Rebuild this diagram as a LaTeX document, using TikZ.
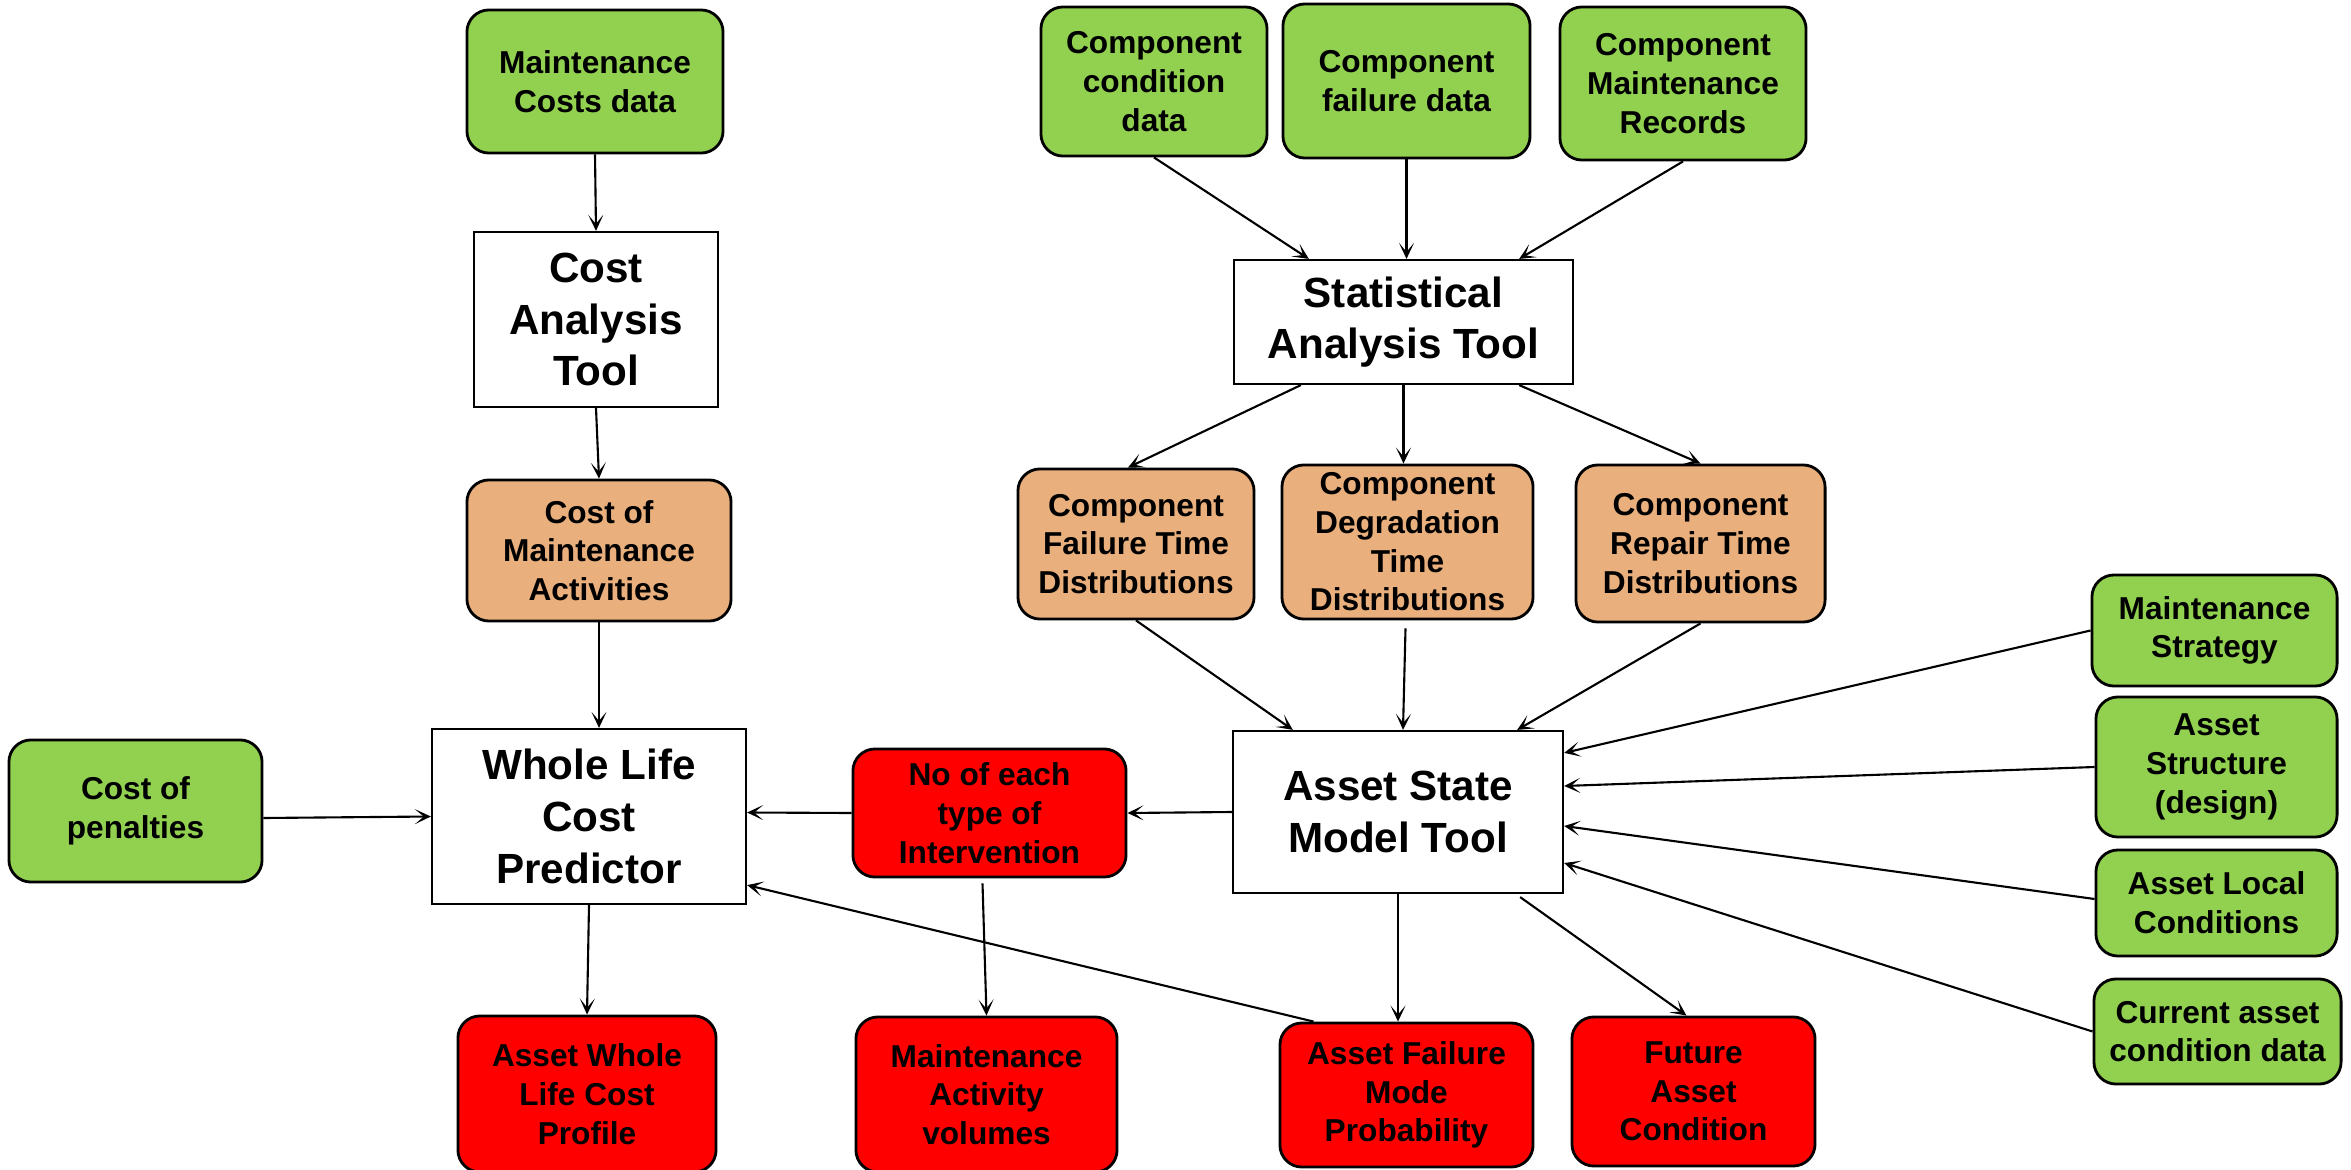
\documentclass[tikz,border=0pt]{standalone}
\usepackage{fontspec}
\setmainfont{Liberation Sans}
\usetikzlibrary{arrows.meta,calc}
\definecolor{grnfill}{HTML}{92D050}
\definecolor{orgfill}{HTML}{E9AF7C}
\definecolor{redfill}{HTML}{FF0000}
\begin{document}
\begin{tikzpicture}[x=0.01cm,y=-0.01cm,
  box/.style={draw=black, line width=0.8pt, rounded corners=0.22cm, align=center,
    inner sep=0pt, font=\fontsize{9pt}{11pt}\selectfont\bfseries},
  datain/.style={box, fill=grnfill},
  dist/.style={box, fill=orgfill},
  result/.style={box, fill=redfill},
  tool/.style={draw=black, line width=0.6pt, fill=white, align=center, inner sep=0pt,
    font=\fontsize{12pt}{14.7pt}\selectfont\bfseries},
  link/.style={draw=black, line width=0.6pt,
    -{Stealth[length=0.16cm,width=0.15cm,inset=0.09cm]}}
]
\useasboundingbox (0,0) rectangle (2351,1170);
\clip (0,0) rectangle (2351,1170);

% data sources
\node[datain, minimum width=2.56cm, minimum height=1.43cm] (mcd) at (595,81.5) {Maintenance\\Costs data};
\node[datain, minimum width=2.26cm, minimum height=1.49cm] (ccd) at (1154,81.5) {Component\\condition\\data};
\node[datain, minimum width=2.47cm, minimum height=1.54cm] (cfd) at (1406.5,81) {Component\\failure data};
\node[datain, minimum width=2.46cm, minimum height=1.53cm] (cmr) at (1683,83.5) {Component\\Maintenance\\Records};
\node[datain, minimum width=2.53cm, minimum height=1.42cm] (cop) at (135.5,811) {Cost of\\penalties};
\node[datain, minimum width=2.45cm, minimum height=1.11cm] (ms) at (2214.5,630.5) {Maintenance\\Strategy};
\node[datain, minimum width=2.41cm, minimum height=1.40cm] (as) at (2216.5,767) {Asset\\Structure\\(design)};
\node[datain, minimum width=2.41cm, minimum height=1.06cm] (alc) at (2216.5,903) {Asset Local\\Conditions};
\node[datain, minimum width=2.47cm, minimum height=1.05cm] (cacd) at (2217.5,1031.5) {Current asset\\condition data};

% tools
\node[tool, minimum width=2.44cm, minimum height=1.75cm] (cat) at (596,319.5) {Cost\\Analysis\\Tool};
\node[tool, minimum width=3.39cm, minimum height=1.24cm] (sat) at (1403.5,322) {Statistical\\Analysis Tool};
\node[tool, minimum width=3.14cm, minimum height=1.75cm] (wlcp) at (589,816.5) {Whole Life\\Cost\\Predictor};
\node[tool, minimum width=3.30cm, minimum height=1.62cm] (asmt) at (1398,812) {Asset State\\Model Tool};

% derived quantities
\node[dist, minimum width=2.64cm, minimum height=1.41cm] (cma) at (599,550.5) {Cost of\\Maintenance\\Activities};
\node[dist, minimum width=2.36cm, minimum height=1.50cm] (cftd) at (1136,544) {Component\\Failure Time\\Distributions};
\node[dist, minimum width=2.51cm, minimum height=1.54cm] (cdtd) at (1407.5,542) {Component\\Degradation\\Time\\Distributions};
\node[dist, minimum width=2.49cm, minimum height=1.57cm] (crtd) at (1700.5,543.5) {Component\\Repair Time\\Distributions};

% outputs
\node[result, minimum width=2.73cm, minimum height=1.28cm] (noi) at (989.5,813) {No of each\\type of\\Intervention};
\node[result, minimum width=2.58cm, minimum height=1.56cm] (awlcp) at (587,1094) {Asset Whole\\Life Cost\\Profile};
\node[result, minimum width=2.61cm, minimum height=1.55cm] (mav) at (986.5,1094.5) {Maintenance\\Activity\\volumes};
\node[result, minimum width=2.53cm, minimum height=1.44cm] (afmp) at (1406.5,1095) {Asset Failure\\Mode\\Probability};
\node[result, minimum width=2.43cm, minimum height=1.49cm] (fac) at (1693.5,1091.5) {Future\\Asset\\Condition};

% cost chain
\draw[link] (mcd.south) -- (cat.north);
\draw[link] (cat.south) -- (cma.north);
\draw[link] (cma.south) -- (cma.south |- wlcp.north);
\draw[link] ($(cop.east)+(0,7)$) -- (wlcp.west);
\draw[link] (noi.west) -- ($(wlcp.east)+(0,-4)$);
\draw[link] (wlcp.south) -- (awlcp.north);
\draw[link] ($(afmp.north west)+(35,0)$) -- ($(wlcp.south east)+(0,-20)$);

% statistical analysis
\draw[link] (ccd.south) -- ($(sat.north west)+(76,0)$);
\draw[link] (cfd.south) -- (cfd.south |- sat.north);
\draw[link] (cmr.south) -- ($(sat.north east)+(-55,0)$);
\draw[link] ($(sat.south west)+(68,0)$) -- ($(cftd.north)+(-8,0)$);
\draw[link] (sat.south) -- (sat.south |- cdtd.north);
\draw[link] ($(sat.south east)+(-55,0)$) -- (crtd.north);

% asset state model inputs
\draw[link] (cftd.south) -- ($(asmt.north west)+(61,0)$);
\draw[link] ($(cdtd.south)+(-2,8)$) -- ($(asmt.north)+(5,0)$);
\draw[link] (crtd.south) -- ($(asmt.north east)+(-47,0)$);
\draw[link] (ms.west) -- ($(asmt.north east)+(0,23)$);
\draw[link] (as.west) -- ($(asmt.east)+(0,-26)$);
\draw[link] ($(alc.west)+(0,-4)$) -- ($(asmt.east)+(0,14)$);
\draw[link] (cacd.west) -- ($(asmt.east)+(0,51)$);

% asset state model outputs
\draw[link] (asmt.west) -- (noi.east);
\draw[link] ($(noi.south)+(-7,5)$) -- (mav.north);
\draw[link] (asmt.south) -- (asmt.south |- afmp.north);
\draw[link] ($(asmt.south east)+(-44,3)$) -- ($(fac.north)+(-7,0)$);
\end{tikzpicture}
\end{document}
